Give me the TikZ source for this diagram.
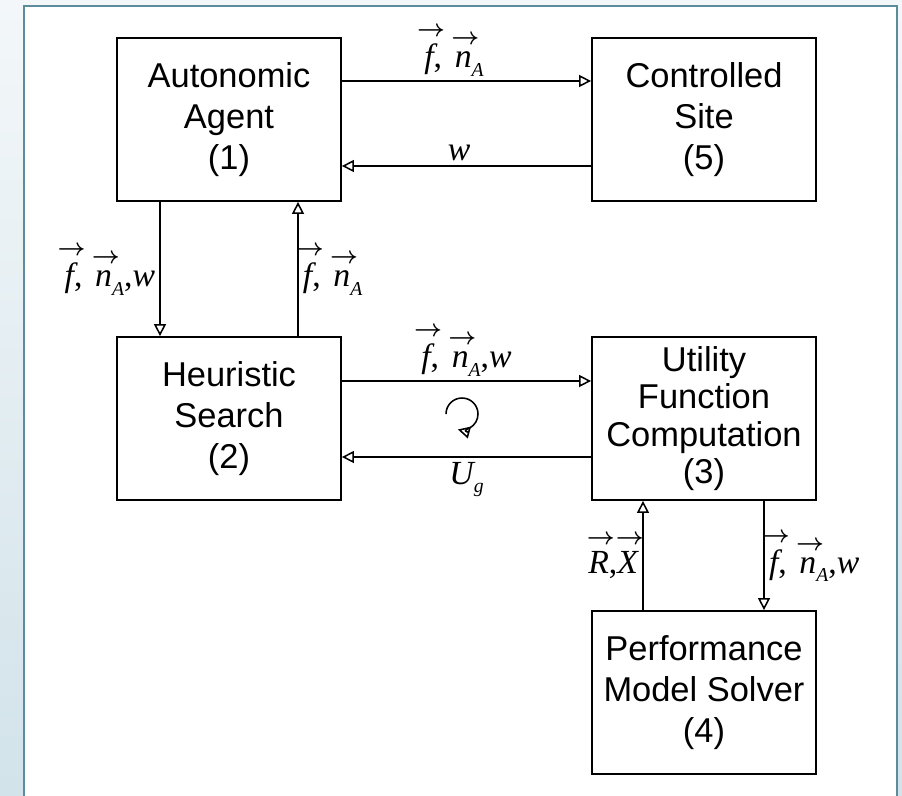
\documentclass[tikz,border=0pt]{standalone}
\usepackage{amsmath}
\usepackage{mathtools}
\usepackage{fontspec}
\usepackage{tikz}
\usetikzlibrary{arrows.meta}
\setmainfont{Liberation Sans}
\newfontfamily\tms{Liberation Serif}
\newcommand{\vv}[1]{$\overset{\mathclap{\scriptstyle\hspace{3pt}\boldsymbol{\rightarrow}}}{\mbox{\itshape #1}}$}
\newcommand{\lowidx}[1]{\raisebox{-6pt}{\fontsize{14}{14}\selectfont\itshape #1}}
\definecolor{frameteal}{RGB}{92,139,154}
\definecolor{bgtop}{RGB}{243,247,249}
\definecolor{bgbottom}{RGB}{210,227,234}

\begin{document}
\begin{tikzpicture}[
  box/.style={draw,line width=1.3pt,minimum width=5.6cm,minimum height=4.075cm,align=center,font=\fontsize{24.5}{29}\selectfont},
  flow/.style={line width=1.1pt,-{Triangle[open,length=8.5pt,width=8.5pt]}},
  lbl/.style={font=\tms\fontsize{24}{26}\selectfont,inner sep=3pt}
]
\useasboundingbox (0,0) rectangle (22.55,19.875);
\clip (0,0) rectangle (22.55,19.875);
\shade[top color=bgtop,bottom color=bgbottom] (0,0) rectangle (22.55,19.875);
\draw[frameteal,line width=1.5pt,fill=white] (0.6,-1) rectangle (22.425,19.725);

\node[box] (agent) at (5.725,16.8875) {Autonomic\\Agent\\(1)};
\node[box] (site) at (17.6,16.8875) {Controlled\\Site\\(5)};
\node[box] (search) at (5.725,9.4125) {Heuristic\\Search\\(2)};
\node[box,font=\fontsize{24.5}{26.5}\selectfont] (utility) at (17.6,9.4125) {Utility\\Function\\Computation\\(3)};
\node[box] (solver) at (17.6,2.5625) {Performance\\Model Solver\\(4)};

\draw[flow] ([yshift=0.9625cm]agent.east) -- node[lbl,above,pos=0.45] {\vv{f},\hspace{9pt}\vv{n}\lowidx{A}} ([yshift=0.9625cm]site.west);
\draw[flow] ([yshift=-1.1625cm]site.west) -- node[lbl,above,pos=0.53] {\itshape w} ([yshift=-1.1625cm]agent.east);
\draw[flow] ([xshift=-1.725cm]agent.south) -- node[lbl,left] {\vv{f},\hspace{9pt}\vv{n}\lowidx{A},\itshape w} ([xshift=-1.725cm]search.north);
\draw[flow] ([xshift=1.725cm]search.north) -- node[lbl,right] {\vv{f},\hspace{9pt}\vv{n}\lowidx{A}} ([xshift=1.725cm]agent.south);
\draw[flow] ([yshift=0.9375cm]search.east) -- node[lbl,above] {\vv{f},\hspace{9pt}\vv{n}\lowidx{A},\itshape w} ([yshift=0.9375cm]utility.west);
\draw[flow] ([yshift=-0.9625cm]utility.west) -- node[lbl,below] {\itshape U\lowidx{g}} ([yshift=-0.9625cm]search.east);
\draw[flow] ([xshift=-1.525cm]solver.north) -- node[lbl,left] {\vv{R},\vv{X}} ([xshift=-1.525cm]utility.south);
\draw[flow] ([xshift=1.5cm]utility.south) -- node[lbl,right] {\vv{f},\hspace{9pt}\vv{n}\lowidx{A},\itshape w} ([xshift=1.5cm]solver.north);

% iteration loop
\draw[flow] (11.15,9.525) arc[start angle=180,end angle=-105,radius=0.4cm];
\end{tikzpicture}
\end{document}
